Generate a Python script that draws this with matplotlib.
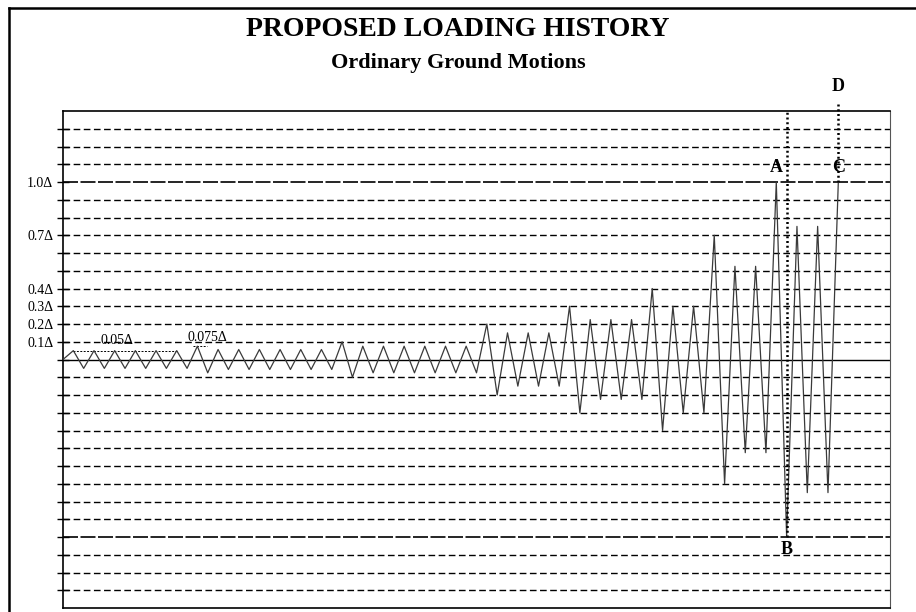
import numpy as np
import matplotlib
matplotlib.use("Agg")
import matplotlib.pyplot as plt
from matplotlib.lines import Line2D

plt.rcParams['font.family'] = ['Liberation Serif', 'DejaVu Serif']

# cycle amplitudes (fraction of reference deformation delta)
initiation = [0.05] * 6
primary = [0.075, 0.1, 0.2, 0.3, 0.4, 0.7, 1.0]
n_trailing = [6, 6, 3, 3, 2, 2, 2]
trail_ratio = 0.75
final_peak = 1.0      # point C
next_peak = 1.5       # point D (continues)

tick_vals = [1.0, 0.7, 0.4, 0.3, 0.2, 0.1]
tick_text = ["1.0\u0394", "0.7\u0394", "0.4\u0394", "0.3\u0394", "0.2\u0394", "0.1\u0394"]

amps = list(initiation)
for p, n in zip(primary, n_trailing):
    amps.append(p)
    amps += [p * trail_ratio] * n

# turning points, one per half cycle
y = [0.0]
for a in amps:
    y += [a, -a]
y.append(final_peak)
x = np.arange(len(y))

fig = plt.figure(figsize=(9.16, 6.12), dpi=100)
ax = fig.add_axes([63 / 916, 4 / 612, 827 / 916, 497 / 612])

# grid lines every 0.1
for g in np.arange(-13, 14) / 10:
    if abs(g) < 1e-9:
        ax.axhline(0, color='black', lw=1.0, zorder=2)
    elif abs(abs(g) - 1.0) < 1e-9:
        ax.axhline(g, color='black', lw=1.2, dashes=(9, 1.5), zorder=1)
    else:
        ax.axhline(g, color='black', lw=1.0, dashes=(4.8, 2.5), zorder=1)

ax.plot(x, y, color='#3a3a3a', lw=0.9, zorder=3)

# reference marks for the first amplitudes
ax.plot([1, 11], [0.05, 0.05], color='black', lw=0.7, dashes=(2, 1.5))
ax.plot([12.6, 13.9], [0.075, 0.075], color='black', lw=0.7, dashes=(2, 1.5))
ax.text(5.2, 0.105, "0.05\u0394", fontsize=10, ha='center', va='center')
ax.text(14, 0.125, "0.075\u0394", fontsize=10, ha='center', va='center')

# dotted markers at B and C->D
xb = 2 * (len(amps) - 3) + 2
ax.plot([xb, xb], [-1.0, 1.4], color='black', lw=1.8, ls=(0, (0.8, 1.1)), zorder=4)
ax.plot([x[-1], x[-1]], [final_peak, next_peak - 0.05], color='black', lw=1.8,
        ls=(0, (0.8, 1.1)), zorder=4, clip_on=False)

ax.text(xb - 1, 1.08, "A", fontsize=13, fontweight='bold', ha='center', va='center')
ax.text(xb, -1.07, "B", fontsize=13, fontweight='bold', ha='center', va='center')
ax.text(x[-1], 1.08, "C", fontsize=13, fontweight='bold', ha='center', va='center')
ax.text(x[-1], next_peak + 0.04, "D", fontsize=13, fontweight='bold', ha='center',
        va='center', clip_on=False)

ax.set_xlim(0, 80)
ax.set_ylim(-1.4, 1.4)
ax.set_xticks([])
ax.set_yticks(np.arange(-13, 14) / 10, minor=True)
ax.set_yticks(tick_vals)
ax.set_yticklabels(tick_text, fontsize=10)
ax.tick_params(axis='y', which='both', direction='inout', length=8, width=1, pad=3)
for s in ['top', 'left', 'bottom']:
    ax.spines[s].set_linewidth(1.2)
ax.spines['right'].set_color('#555555')

fig.text(0.5, 1 - 30 / 612, "PROPOSED LOADING HISTORY", fontsize=20, fontweight='bold',
         ha='center', va='center')
fig.text(0.5, 1 - 63 / 612, "Ordinary Ground Motions", fontsize=16, fontweight='bold',
         ha='center', va='center')

# outer frame
fig.add_artist(Line2D([8.5 / 916, 1], [1 - 8 / 612, 1 - 8 / 612], color='black', lw=1.8,
                      transform=fig.transFigure))
fig.add_artist(Line2D([8.5 / 916, 8.5 / 916], [0, 1 - 8 / 612], color='black', lw=1.8,
                      transform=fig.transFigure))

fig.savefig("out.png", dpi=100, facecolor='white')
